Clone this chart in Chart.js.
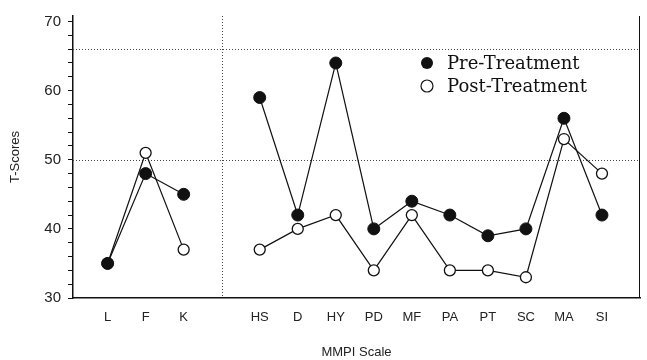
<!DOCTYPE html>
<html>
<head>
<meta charset="utf-8">
<script src="https://cdn.jsdelivr.net/npm/chart.js@4.4.0/dist/chart.umd.min.js"></script>
<style>
  html, body { margin: 0; padding: 0; background: #fff; }
  #wrap { width: 647px; height: 360px; }
</style>
</head>
<body>
<div id="wrap"><canvas id="chart" width="647" height="360"></canvas></div>
<script>
// MMPI scales, blank slot separates validity scales from clinical scales
const categories = ["L", "F", "K", "", "HS", "D", "HY", "PD", "MF", "PA", "PT", "SC", "MA", "SI"];
const preScores = [35, 48, 45, null, 59, 42, 64, 40, 44, 42, 39, 40, 56, 42];
const postScores = [35, 51, 37, null, 37, 40, 42, 34, 42, 34, 34, 33, 53, 48];
const yTickLabels = [30, 40, 50, 60, 70];
const refLinesY = [50, 66];
const refLinesX = [3];
const seriesNames = ["Pre-Treatment", "Post-Treatment"];

function toPoints(values) {
  return values.map((v, i) => ({ x: i, y: v }));
}

// dotted reference lines, the frame and the legend
const extras = {
  id: "extras",
  beforeDatasetsDraw(chart) {
    const { ctx, chartArea, scales } = chart;
    ctx.save();
    ctx.strokeStyle = "#444";
    ctx.lineWidth = 1;
    ctx.setLineDash([1, 2]);
    refLinesY.forEach((v) => {
      const y = Math.round(scales.y.getPixelForValue(v)) + 0.5;
      ctx.beginPath();
      ctx.moveTo(chartArea.left, y);
      ctx.lineTo(chartArea.right, y);
      ctx.stroke();
    });
    refLinesX.forEach((v) => {
      const x = Math.round(scales.x.getPixelForValue(v)) + 0.5;
      ctx.beginPath();
      ctx.moveTo(x, chartArea.top);
      ctx.lineTo(x, chartArea.bottom);
      ctx.stroke();
    });
    ctx.setLineDash([]);
    // right edge of the frame
    ctx.strokeStyle = "#111";
    ctx.beginPath();
    ctx.moveTo(chartArea.right - 0.5, chartArea.top);
    ctx.lineTo(chartArea.right - 0.5, chartArea.bottom);
    ctx.stroke();
    ctx.restore();
  },
  afterDraw(chart) {
    const { ctx } = chart;
    ctx.save();
    ctx.font = "18px 'DejaVu Serif'";
    ctx.textBaseline = "middle";
    const rows = [63, 86];
    rows.forEach((y, i) => {
      ctx.beginPath();
      ctx.arc(427, y, 6, 0, Math.PI * 2);
      if (i === 0) {
        ctx.fillStyle = "#111";
        ctx.fill();
      } else {
        ctx.fillStyle = "#fff";
        ctx.fill();
        ctx.strokeStyle = "#111";
        ctx.lineWidth = 1.2;
        ctx.stroke();
      }
      ctx.fillStyle = "#111";
      ctx.fillText(seriesNames[i], 447, y + 1);
    });
    ctx.restore();
  },
};

const ctx = document.getElementById("chart").getContext("2d");

new Chart(ctx, {
  type: "line",
  data: {
    datasets: [
      {
        label: seriesNames[0],
        data: toPoints(preScores),
        borderColor: "#111",
        borderWidth: 1.2,
        backgroundColor: "#111",
        pointBackgroundColor: "#111",
        pointBorderColor: "#111",
        pointRadius: 6,
        pointBorderWidth: 1,
        tension: 0,
        spanGaps: false,
      },
      {
        label: seriesNames[1],
        data: toPoints(postScores),
        borderColor: "#111",
        borderWidth: 1.2,
        backgroundColor: "#fff",
        pointBackgroundColor: "#fff",
        pointBorderColor: "#111",
        pointRadius: 5.5,
        pointBorderWidth: 1.3,
        tension: 0,
        spanGaps: false,
      },
    ],
  },
  options: {
    responsive: false,
    animation: false,
    layout: { padding: { top: 10, right: 3, left: 0, bottom: 0 } },
    plugins: {
      legend: { display: false },
      tooltip: { enabled: false },
    },
    scales: {
      x: {
        type: "linear",
        min: -0.91,
        max: 14,
        afterFit(scale) {
          scale.height = 62;
        },
        grid: { display: false },
        border: { display: true, color: "#111", width: 1.5 },
        ticks: {
          stepSize: 1,
          includeBounds: false,
          autoSkip: false,
          maxRotation: 0,
          padding: 4,
          color: "#222",
          font: { family: "'Liberation Sans'", size: 13 },
          callback: (value) => (Number.isInteger(value) && categories[value]) || "",
        },
        title: {
          display: true,
          text: "MMPI Scale",
          color: "#222",
          font: { family: "'Liberation Sans'", size: 13 },
          padding: { top: 0, bottom: 0 },
        },
      },
      y: {
        min: 30,
        max: 70.8,
        afterFit(scale) {
          scale.width = 73;
        },
        grid: {
          drawOnChartArea: false,
          tickLength: 5,
          lineWidth: 1,
          color: (c) => (c.tick && Math.abs(c.tick.value % 2) < 0.01 ? "#111" : "rgba(0,0,0,0)"),
        },
        border: { display: true, color: "#111", width: 1.5 },
        ticks: {
          stepSize: 2,
          includeBounds: false,
          autoSkip: false,
          padding: 7,
          color: "#222",
          font: { family: "'Liberation Sans'", size: 15 },
          callback: (value) => (yTickLabels.includes(value) ? String(value) : ""),
        },
        title: {
          display: true,
          text: "T-Scores",
          color: "#222",
          font: { family: "'Liberation Sans'", size: 13 },
          padding: { top: 8, bottom: 0 },
        },
      },
    },
  },
  plugins: [extras],
});
</script>
</body>
</html>
